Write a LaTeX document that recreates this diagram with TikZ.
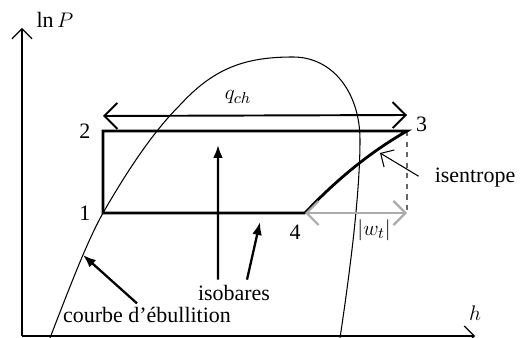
\documentclass[tikz,border=0pt]{standalone}
\usepackage{fontspec}
\setmainfont{Liberation Serif}
\usetikzlibrary{arrows.meta, positioning, calc}
\tikzset{
  axis/.style={-{Straight Barb[length=2mm]}, line width=0.7pt},
  cyc/.style={line width=1.6pt, line join=miter},
  dome/.style={line width=0.6pt},
  dbl/.style={{Straight Barb[length=2.6mm]}-{Straight Barb[length=2.6mm]}, line width=1.1pt},
  work/.style={{Straight Barb[length=2.4mm]}-{Straight Barb[length=2.4mm]}, line width=1.3pt, gray!65},
  guide/.style={dashed, line width=0.6pt, gray!80!black},
  lbl/.style={font=\fontsize{12.5}{15}\selectfont, inner sep=1pt},
  arr/.style={-{Latex[length=2.6mm]}, line width=1.3pt},
  thinarr/.style={-{Straight Barb[length=2mm]}, line width=0.6pt},
}

\begin{document}
\begin{tikzpicture}[x=0.02cm, y=0.02cm]
    \useasboundingbox (0,0) rectangle (531,338);
    % axes
    \coordinate (O) at (22,2);
    \coordinate (ytop) at (22,310);
    \coordinate (hend) at (475,2);
    \draw[axis] (O) -- (ytop);
    \draw[axis] (O) -- (hend);
    \node[lbl] (lnP) at (55,318) {$\ln P$};
    \node[lbl] (h) at (475,25) {$h$};
    % cycle
    \coordinate (p1) at (103,125);
    \coordinate (p2) at (103,207);
    \coordinate (p3) at (407,207);
    \coordinate (p4) at (305,125);
    \coordinate (p3b) at (p3 |- p4);
    % saturation dome
    \draw[dome] (50,0) .. controls (75,65) and (89,100) .. (p1)
      .. controls (130,172) and (155,208) .. (180,233)
      .. controls (214,270) and (245,281) .. (293,281)
      .. controls (333,281) and (360,245) .. (360,198)
      .. controls (360,150) and (352,80) .. (340,0);
    \draw[guide] (p3) -- (p3b);
    \draw[cyc] (p4) -- (p1) -- (p2) -- (p3) .. controls (372,187) and (338,160) .. (p4);
    \draw[work] (p4) -- (p3b);
    \node[lbl, left=6pt of p1] (l1) {1};
    \node[lbl, left=6pt of p2] (l2) {2};
    \node[lbl, right=4pt of p3, yshift=4pt] (l3) {3};
    \node[lbl] (l4) at (295,106) {4};
    % heat
    \coordinate (qa) at (103,222);
    \coordinate (qb) at (407,223);
    \draw[dbl] (qa) -- (qb);
    \node[lbl] (qch) at (238,241) {$q_{ch}$};
    \node[lbl] (wt) at (374,108) {$|w_t|$};
    % labels
    \node[lbl] (isen) at (475,160) {isentrope};
    \coordinate (itip) at (380,185);
    \draw[thinarr] ([xshift=-8pt, yshift=1pt]isen.west) -- (itip);
    \node[lbl] (iso) at (234,45) {isobares};
    \coordinate (isoA) at (218,193);
    \coordinate (isoB) at (260,116);
    \draw[arr] ([xshift=-0.32cm, yshift=2pt]iso.north) -- (isoA);
    \draw[arr] ([xshift=0.26cm, yshift=2pt]iso.north) -- (isoB);
    \node[lbl] (courbe) at (147,23) {courbe d'ébullition};
    \coordinate (cb) at (83,83);
    \draw[arr] ([xshift=-0.2cm, yshift=1pt]courbe.north) -- (cb);
\end{tikzpicture}
\end{document}
